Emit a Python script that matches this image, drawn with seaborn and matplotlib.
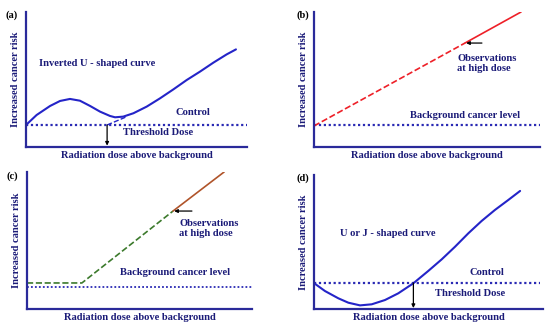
import pandas as pd
import matplotlib
matplotlib.use("Agg")
import matplotlib.pyplot as plt
import seaborn as sns

sns.set_theme(style="white")
plt.rcParams['font.family'] = ['Liberation Serif', 'DejaVu Serif']
plt.rcParams['font.weight'] = 'bold'

TEXT = "#1b1b78"
AXIS = "#2a2a9a"
BLUE = "#2424c8"
DOT = "#2a2ab4"
RED = "#ee2028"
GREEN = "#3c7a2c"
BROWN = "#b0542a"

# (a) inverted U curve
a_dose = [0, 4.8, 10.9, 15.4, 19.9, 24.4, 29.0, 33.5, 38.0, 40.3, 44.0, 48.6,
          54.6, 60.6, 66.7, 72.7, 78.7, 84.8, 90.8, 95.0]
a_risk = [16.3, 23.7, 30.4, 34.1, 35.6, 34.3, 30.4, 26.2, 23.0, 22.0, 22.5, 25.0,
          29.9, 36.0, 42.7, 49.6, 55.8, 62.5, 68.6, 72.3]
a_control = 16.3
a_threshold = 36.7
a_ext_dose = [36.7, 45.2]
a_ext_risk = [16.3, 22.2]

# (b) linear no threshold
b_low_dose = [0, 66.8]
b_low_risk = [15.6, 77.0]
b_high_dose = [66.8, 91.6]
b_high_risk = [77.0, 100]
b_background = 16.3

# (c) threshold linear
c_low_dose = [0, 24.4, 64.9]
c_low_risk = [19.0, 19.0, 71.5]
c_high_dose = [64.9, 87.6]
c_high_risk = [71.5, 100]
c_background = 16.1

# (d) U / J shaped curve
d_dose = [0.1, 4.8, 10.6, 15.0, 20.1, 25.2, 31.0, 36.8, 43.4, 49.9, 55.8, 61.6,
          67.4, 73.2, 79.0, 84.8, 90.0]
d_risk = [19.2, 13.4, 8.0, 4.7, 2.7, 3.5, 6.7, 11.7, 19.2, 28.4, 37.1, 46.5,
          56.5, 65.7, 73.9, 81.3, 88.1]
d_control = 19.4
d_threshold = 43.4

W, H = 550, 330


def make_axes(fig, left, top, right, bottom):
    ax = fig.add_axes([left / W, 1 - bottom / H, (right - left) / W, (bottom - top) / H])
    ax.set_xlim(0, 100)
    ax.set_ylim(0, 100)
    ax.set_xticks([])
    ax.set_yticks([])
    for s in ['top', 'right']:
        ax.spines[s].set_visible(False)
    for s in ['left', 'bottom']:
        ax.spines[s].set_color(AXIS)
        ax.spines[s].set_linewidth(1.6)
    ax.set_xlabel("Radiation dose above background", color=TEXT, fontsize=7.6,
                  fontweight='bold', labelpad=3)
    ax.set_ylabel("Increased cancer risk", color=TEXT, fontsize=7.6,
                  fontweight='bold', labelpad=4)
    ax.patch.set_alpha(0)
    return ax


def label(ax, x, y, s, ha='center'):
    ax.text(x, y, s, color=TEXT, fontsize=7.6, fontweight='bold', ha=ha, va='center',
            linespacing=1.15)


def arrow(ax, x0, y0, x1, y1):
    ax.annotate("", xy=(x1, y1), xytext=(x0, y0),
                arrowprops=dict(arrowstyle="-|>", color="black", lw=0.9,
                                mutation_scale=5, shrinkA=0, shrinkB=0))


dotted = (0, (1, 1.2))
fig = plt.figure(figsize=(W / 100, H / 100), dpi=100)

# panel a
ax = make_axes(fig, 26, 12, 247, 147)
ax.axhline(a_control, color=DOT, lw=1.6, ls=dotted)
sns.lineplot(x=a_dose, y=a_risk, ax=ax, color=BLUE, lw=1.5, sort=False)
sns.lineplot(x=a_ext_dose, y=a_ext_risk, ax=ax, color=BLUE, lw=1.0, ls='--', sort=False)
arrow(ax, a_threshold, a_control, a_threshold, 1.0)
label(ax, 32.1, 62.2, "Inverted U - shaped curve")
label(ax, 75.6, 25.9, "Control")
label(ax, 59.7, 10.4, "Threshold Dose")
fig.text(12 / W, 1 - 15 / H, "(a)", color="black", fontsize=7.6, fontweight='bold',
         ha='center', va='center')

# panel b
ax = make_axes(fig, 314, 12, 540, 147)
ax.axhline(b_background, color=DOT, lw=1.6, ls=dotted)
sns.lineplot(x=b_low_dose, y=b_low_risk, ax=ax, color=RED, lw=1.2, ls='--', sort=False)
sns.lineplot(x=b_high_dose, y=b_high_risk, ax=ax, color=RED, lw=1.2, sort=False)
arrow(ax, 74.3, b_high_risk[0], b_high_dose[0] + 0.5, b_high_risk[0])
label(ax, 63.3, 62.2, "Observations\nat high dose", ha='left')
label(ax, 66.8, 23.7, "Background cancer level")
fig.text(303 / W, 1 - 15 / H, "(b)", color="black", fontsize=7.6, fontweight='bold',
         ha='center', va='center')

# panel c
ax = make_axes(fig, 27, 172, 252, 309)
ax.axhline(c_background, color=DOT, lw=1.3, ls=dotted)
sns.lineplot(x=c_low_dose, y=c_low_risk, ax=ax, color=GREEN, lw=1.2, ls='--', sort=False)
sns.lineplot(x=c_high_dose, y=c_high_risk, ax=ax, color=BROWN, lw=1.2, sort=False)
arrow(ax, 73.3, c_high_risk[0], c_high_dose[0] + 0.5, c_high_risk[0])
label(ax, 67.6, 59.1, "Observations\nat high dose", ha='left')
label(ax, 65.8, 26.3, "Background cancer level")
fig.text(12 / W, 1 - 176 / H, "(c)", color="black", fontsize=7.6, fontweight='bold',
         ha='center', va='center')

# panel d
ax = make_axes(fig, 314, 175, 543, 309)
ax.axhline(d_control, xmax=0.987, color=DOT, lw=1.6, ls=dotted)
sns.lineplot(x=d_dose, y=d_risk, ax=ax, color=BLUE, lw=1.5, sort=False)
arrow(ax, d_threshold, d_control, d_threshold, 0.7)
label(ax, 32.3, 56.0, "U or J - shaped curve")
label(ax, 75.5, 27.6, "Control")
label(ax, 68.1, 11.9, "Threshold Dose")
fig.text(303 / W, 1 - 178 / H, "(d)", color="black", fontsize=7.6, fontweight='bold',
         ha='center', va='center')

fig.savefig("out.png", dpi=100, facecolor="white")
